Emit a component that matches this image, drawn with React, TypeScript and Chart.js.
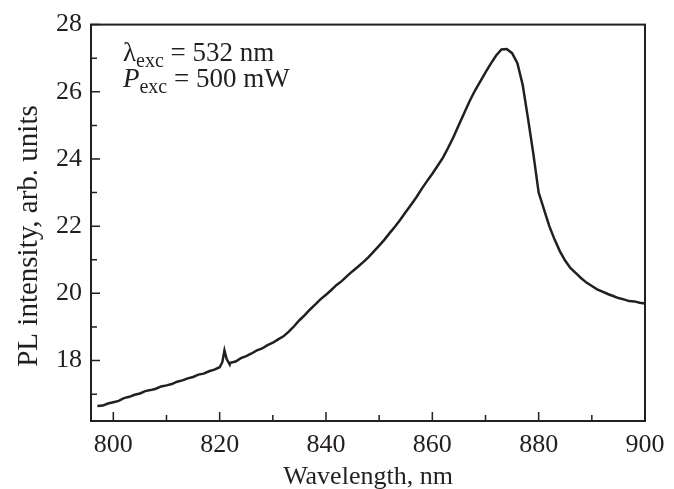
import React, { useEffect, useRef } from "react";
import { Chart, registerables } from "chart.js";

Chart.register(...registerables);

// Wavelength (nm) and PL intensity (arb. units)
const wavelengths = [
  797, 798, 799, 800, 801, 802, 803, 804, 805, 806, 807, 808, 809, 810,
  811, 812, 813, 814, 815, 816, 817, 818, 819, 820, 820.5, 820.9, 821.3,
  821.9, 822, 823, 824, 825, 826, 827, 828, 829, 830, 831, 832, 833, 834,
  835, 836, 837, 838, 839, 840, 841, 842, 843, 844, 845, 846, 847, 848,
  849, 850, 851, 852, 853, 854, 855, 856, 857, 858, 859, 860, 861, 862,
  863, 864, 865, 866, 867, 868, 869, 870, 871, 872, 873, 874, 875, 876,
  877, 878, 879, 880, 881, 882, 883, 884, 885, 886, 887, 888, 889, 890,
  891, 892, 893, 894, 895, 896, 897, 898, 899, 900,
];
const intensity = [
  16.65, 16.66, 16.72, 16.76, 16.8, 16.88, 16.92, 16.98, 17.02, 17.09,
  17.12, 17.16, 17.23, 17.26, 17.3, 17.37, 17.41, 17.47, 17.51, 17.58,
  17.61, 17.68, 17.73, 17.8, 17.95, 18.3, 18.05, 17.88, 17.93, 17.97,
  18.07, 18.13, 18.21, 18.3, 18.36, 18.46, 18.53, 18.63, 18.72, 18.86,
  19.02, 19.2, 19.35, 19.52, 19.67, 19.83, 19.96, 20.1, 20.25, 20.37,
  20.52, 20.66, 20.79, 20.93, 21.08, 21.25, 21.42, 21.6, 21.8, 21.99,
  22.2, 22.42, 22.64, 22.86, 23.11, 23.34, 23.56, 23.8, 24.04, 24.34,
  24.66, 25.02, 25.37, 25.72, 26.03, 26.3, 26.58, 26.84, 27.08, 27.26,
  27.27, 27.15, 26.85, 26.2, 25.2, 24.15, 23.0, 22.5, 22.0, 21.6, 21.25,
  20.97, 20.75, 20.6, 20.45, 20.32, 20.22, 20.12, 20.05, 19.98, 19.92,
  19.86, 19.82, 19.77, 19.76, 19.72, 19.7,
];

const xMajorTicks = [800, 820, 840, 860, 880, 900];
const xMinorTicks = [810, 830, 850, 870, 890];
const yMajorTicks = [18, 20, 22, 24, 26, 28];
const yMinorTicks = [17, 19, 21, 23, 25, 27];

const xTitle = "Wavelength, nm";
const yTitle = "PL intensity, arb. units";
const noteLines = [
  { symbol: "λ", italic: false, sub: "exc", rest: " = 532 nm" },
  { symbol: "P", italic: true, sub: "exc", rest: " = 500 mW" },
];

const INK = "#231f20";
const FONT = "'Liberation Serif', 'Times New Roman', serif";

const framePlugin = {
  id: "frameAndNotes",
  afterDatasetsDraw(chart: any) {
    const { ctx, chartArea } = chart;
    const xs = chart.scales.x;
    const ys = chart.scales.y;
    const { left, right, top, bottom } = chartArea;
    ctx.save();
    ctx.strokeStyle = INK;
    ctx.lineWidth = 2;
    ctx.strokeRect(left, top, right - left, bottom - top);
    ctx.lineWidth = 1.5;
    ctx.beginPath();
    const tick = (vals: number[], len: number, axis: "x" | "y") => {
      vals.forEach((v) => {
        if (axis === "x") {
          const p = xs.getPixelForValue(v);
          ctx.moveTo(p, bottom);
          ctx.lineTo(p, bottom - len);
        } else {
          const p = ys.getPixelForValue(v);
          ctx.moveTo(left, p);
          ctx.lineTo(left + len, p);
        }
      });
    };
    tick(xMajorTicks, 9, "x");
    tick(xMinorTicks, 6, "x");
    tick(yMajorTicks, 9, "y");
    tick(yMinorTicks, 6, "y");
    ctx.stroke();

    // axis titles
    ctx.fillStyle = INK;
    ctx.textAlign = "center";
    ctx.textBaseline = "alphabetic";
    ctx.font = `26px ${FONT}`;
    ctx.fillText(xTitle, (left + right) / 2, 484);
    ctx.save();
    ctx.translate(37, 236);
    ctx.rotate(-Math.PI / 2);
    ctx.font = `29px ${FONT}`;
    ctx.fillText(yTitle, 0, 0);
    ctx.restore();

    // annotation
    ctx.textAlign = "left";
    noteLines.forEach((ln, i) => {
      const baseY = top + 36 + i * 26.7;
      let x = left + 32;
      ctx.font = `${ln.italic ? "italic " : ""}27px ${FONT}`;
      ctx.fillText(ln.symbol, x, baseY);
      x += ctx.measureText(ln.symbol).width;
      ctx.font = `20px ${FONT}`;
      ctx.fillText(ln.sub, x, baseY + 6);
      x += ctx.measureText(ln.sub).width;
      ctx.font = `27px ${FONT}`;
      ctx.fillText(ln.rest, x, baseY);
    });
    ctx.restore();
  },
};

export default function App() {
  const ref = useRef<HTMLCanvasElement | null>(null);
  useEffect(() => {
    if (!ref.current) return;
    const points = wavelengths.map((w, i) => ({ x: w, y: intensity[i] }));
    const chart = new Chart(ref.current, {
      type: "scatter",
      data: {
        datasets: [
          {
            data: points,
            showLine: true,
            borderColor: INK,
            borderWidth: 2.5,
            pointRadius: 0,
            tension: 0,
          },
        ],
      },
      options: {
        responsive: false,
        animation: false,
        events: [],
        layout: { padding: { left: 0, top: 22, right: 29, bottom: 0 } },
        plugins: { legend: { display: false }, tooltip: { enabled: false } },
        scales: {
          x: {
            type: "linear",
            min: 795.8,
            max: 900,
            afterBuildTicks: (s: any) => {
              s.ticks = xMajorTicks.map((v) => ({ value: v }));
            },
            afterFit: (s: any) => {
              s.height = 68;
            },
            grid: { display: false, drawTicks: false },
            border: { display: false },
            ticks: {
              autoSkip: false,
              maxRotation: 0,
              padding: 9,
              color: INK,
              font: { family: FONT, size: 26 },
            },
          },
          y: {
            type: "linear",
            min: 16.2,
            max: 28,
            afterBuildTicks: (s: any) => {
              s.ticks = yMajorTicks.map((v) => ({ value: v }));
            },
            afterFit: (s: any) => {
              s.width = 91;
            },
            grid: { display: false, drawTicks: false },
            border: { display: false },
            ticks: {
              autoSkip: false,
              padding: 9,
              color: INK,
              font: { family: FONT, size: 26 },
            },
          },
        },
      },
      plugins: [framePlugin],
    });
    return () => chart.destroy();
  }, []);
  return (
    <div style={{ position: "absolute", left: 0, top: 0, width: 674, height: 489, background: "#fff" }}>
      <canvas ref={ref} width={674} height={489} />
    </div>
  );
}
